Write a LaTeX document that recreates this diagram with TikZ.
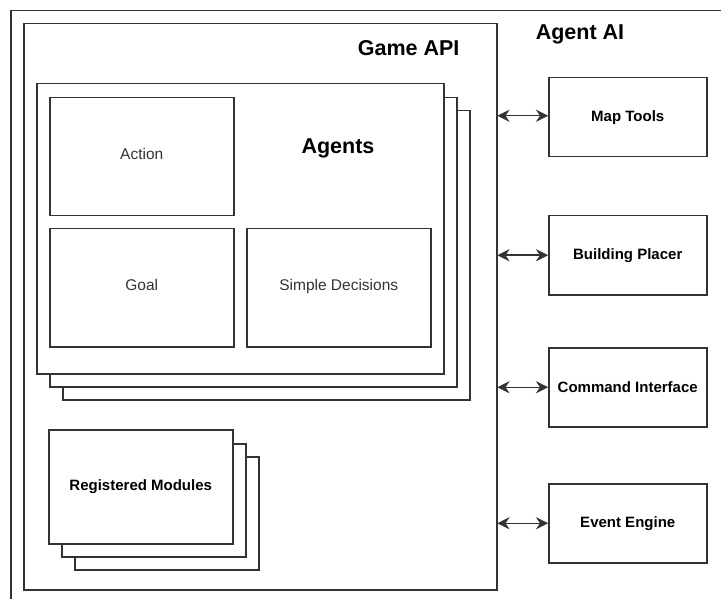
\documentclass[tikz,border=0pt]{standalone}
\usepackage{fontspec}
\setmainfont{Liberation Sans}
\usetikzlibrary{arrows.meta}
\definecolor{ln}{HTML}{333333}
\definecolor{tx}{HTML}{333333}
\begin{document}
\begin{tikzpicture}[x=1pt,y=-1pt,
  box/.style={draw=ln, line width=1.5pt, fill=white, anchor=north west, inner sep=0pt},
  lbl/.style={text=tx, font=\fontsize{15.5}{18}\selectfont, text height=10pt, text depth=4pt},
  blbl/.style={text=black, font=\fontsize{15}{18}\selectfont\bfseries},
  big/.style={text=black, font=\fontsize{21.5}{25}\selectfont\bfseries},
  tip/.tip={Stealth[length=12pt,width=12pt,inset=4pt,line width=0.6pt]},
  arr/.style={draw=ln, line width=1.5pt, tip-tip}]
\useasboundingbox (0,0) rectangle (721,599);
\clip (0,0) rectangle (721,599);
\fill[white] (0,0) rectangle (721,599);
% outer frame
\node[box, minimum width=730pt, minimum height=610pt] (frame) at (10,10) {};
% Game API
\node[box, minimum width=473pt, minimum height=566pt] (gameapi) at (23,23) {};
\node[big, anchor=east] (gamelbl) at (463,48) {Game API};
\node[big] (agentai) at (580,34) {Agent AI};
% Agents stack
\node[box, minimum width=407pt, minimum height=289pt] (ag3) at (62,110) {};
\node[box, minimum width=407pt, minimum height=289pt] (ag2) at (49,97) {};
\node[box, minimum width=407pt, minimum height=290pt] (ag1) at (36,83) {};
\node[big] (agentslbl) at (338,148) {Agents};
\node[box, lbl, minimum width=184pt, minimum height=118pt] (action) at (49,97) {Action};
\node[box, lbl, minimum width=184pt, minimum height=118pt] (goal) at (49,228) {Goal};
\node[box, lbl, minimum width=184pt, minimum height=118pt] (simple) at (246,228) {Simple Decisions};
% Registered modules stack
\node[box, minimum width=184pt, minimum height=113pt] (rm3) at (74,456) {};
\node[box, minimum width=184pt, minimum height=113pt] (rm2) at (61,443) {};
\node[box, blbl, minimum width=184pt, minimum height=114pt] (rm1) at (48,429) {Registered Modules};
% right boxes
\node[box, blbl, minimum width=158pt, minimum height=79pt] (map) at (548,77) {Map Tools};
\node[box, blbl, minimum width=158pt, minimum height=79pt] (build) at (548,215) {Building Placer};
\node[box, blbl, minimum width=158pt, minimum height=79pt] (cmd) at (548,347) {Command Interface};
\node[box, blbl, minimum width=158pt, minimum height=79pt] (event) at (548,483) {Event Engine};
% connectors
\draw[arr] ([yshift=1.5pt]map.west -| gameapi.east) -- ([yshift=1.5pt]map.west);
\draw[arr] (build.west -| gameapi.east) -- (build.west);
\draw[arr] (cmd.west -| gameapi.east) -- (cmd.west);
\draw[arr] (event.west -| gameapi.east) -- (event.west);
\end{tikzpicture}
\end{document}
